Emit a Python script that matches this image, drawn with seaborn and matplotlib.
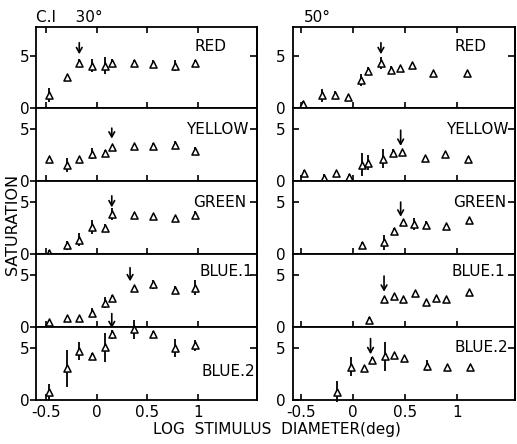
import matplotlib
matplotlib.use("Agg")
import matplotlib.pyplot as plt
import seaborn as sns
import pandas as pd

# ── Data ─────────────────────────────────────────────────────
colors = ["RED", "YELLOW", "GREEN", "BLUE.1", "BLUE.2"]

# 30 deg
x30 = [-0.47, -0.29, -0.17, -0.04, 0.08, 0.15, 0.37, 0.56, 0.77, 0.97]
red30 = [1.3, 3.0, 4.35, 4.1, 4.1, 4.35, 4.35, 4.3, 4.1, 4.35]
red30_err = [0.7, 0, 0.4, 0.6, 0.85, 0.4, 0.3, 0.3, 0.5, 0.3]
yellow30 = [2.15, 1.55, 2.15, 2.65, 2.7, 3.25, 3.4, 3.35, 3.5, 2.9]
yellow30_err = [0, 0.7, 0, 0.5, 0.3, 0, 0, 0.35, 0.4, 0.4]
green30 = [0.15, 0.85, 1.4, 2.6, 2.5, 3.85, 3.75, 3.7, 3.45, 3.8]
green30_err = [0.3, 0.4, 0.6, 0.7, 0.4, 0.55, 0, 0, 0, 0.35]
blue1_30 = [0.45, 0.9, 0.9, 1.4, 2.35, 2.75, 3.8, 4.1, 3.6, 3.8]
blue1_30_err = [0.2, 0, 0, 0.45, 0.5, 0.3, 0, 0.4, 0.3, 0.7]
blue2_30 = [0.8, 3.05, 4.7, 4.25, 5.05, 6.3, 6.8, 6.3, 5.0, 5.25]
blue2_30_err = [0.75, 1.8, 0.9, 0.3, 1.4, 0.4, 0.9, 0.3, 0.9, 0.5]

# 50 deg
x50_red = [-0.48, -0.30, -0.17, -0.05, 0.08, 0.15, 0.27, 0.37, 0.45, 0.57, 0.77, 1.10]
red50 = [0.4, 1.25, 1.3, 1.1, 2.7, 3.6, 4.35, 3.65, 3.9, 4.15, 3.35, 3.35]
red50_err = [0.3, 0.6, 0.4, 0, 0.6, 0.4, 0.6, 0.4, 0, 0, 0, 0]
x50_yellow = [-0.47, -0.28, -0.16, -0.04, 0.09, 0.15, 0.29, 0.39, 0.47, 0.69, 0.89, 1.11]
yellow50 = [0.8, 0.3, 0.8, 0.4, 1.6, 1.8, 2.15, 2.7, 2.8, 2.25, 2.6, 2.1]
yellow50_err = [0.3, 0.4, 0, 0.3, 1.1, 0.75, 0.9, 0.35, 0.2, 0, 0.2, 0]
x50_green = [0.09, 0.30, 0.40, 0.48, 0.59, 0.70, 0.90, 1.12]
green50 = [0.9, 1.15, 2.25, 3.05, 2.9, 2.85, 2.75, 3.3]
green50_err = [0.3, 0.7, 0.3, 0, 0.6, 0.3, 0, 0]
x50_blue1 = [0.16, 0.30, 0.40, 0.48, 0.60, 0.70, 0.80, 0.90, 1.12]
blue1_50 = [0.65, 2.7, 2.95, 2.7, 3.3, 2.4, 2.8, 2.7, 3.4]
blue1_50_err = [0.3, 0, 0, 0, 0, 0.2, 0, 0, 0]
x50_blue2 = [-0.15, -0.02, 0.11, 0.18, 0.31, 0.40, 0.49, 0.71, 0.91, 1.13]
blue2_50 = [0.8, 3.2, 3.05, 3.8, 4.2, 4.3, 4.0, 3.3, 3.2, 3.2]
blue2_50_err = [1.0, 0.9, 0, 0.3, 1.4, 0, 0.2, 0.5, 0, 0]

# arrows: (x, tail, tip)
arrows30 = [(-0.17, 6.3, 5.2), (0.15, 5.1, 4.1), (0.15, 5.6, 4.5),
            (0.33, 5.7, 4.4), (0.15, 8.3, 6.9)]
arrows50 = [(0.27, 6.3, 5.2), (0.46, 4.9, 3.4), (0.46, 5.0, 3.6),
            (0.30, 4.9, 3.4), (0.17, 5.9, 4.4)]

panels30 = [(x30, red30, red30_err), (x30, yellow30, yellow30_err),
            (x30, green30, green30_err), (x30, blue1_30, blue1_30_err),
            (x30, blue2_30, blue2_30_err)]
panels50 = [(x50_red, red50, red50_err), (x50_yellow, yellow50, yellow50_err),
            (x50_green, green50, green50_err), (x50_blue1, blue1_50, blue1_50_err),
            (x50_blue2, blue2_50, blue2_50_err)]

# ── Plot ─────────────────────────────────────────────────────
sns.set_theme(style="ticks")
plt.rcParams["font.family"] = ["DejaVu Sans"]
plt.rcParams["axes.linewidth"] = 1.3
for key in ["text.color", "axes.labelcolor", "xtick.color", "ytick.color",
            "axes.edgecolor"]:
    plt.rcParams[key] = "black"

fig = plt.figure(figsize=(5.17, 4.44), dpi=100)
ylims = [7.8, 7.0, 7.0, 7.0, 7.0]
gs_l = fig.add_gridspec(5, 1, left=0.07, right=0.498, top=0.939, bottom=0.099,
                        hspace=0, height_ratios=ylims)
gs_r = fig.add_gridspec(5, 1, left=0.566, right=0.996, top=0.939, bottom=0.099,
                        hspace=0, height_ratios=ylims)

label_x = [[0.86, 0.96, 0.95, 0.98, 0.99], [0.87, 0.97, 0.96, 0.955, 0.97]]
label_y = [5.9, 5.0, 5.0, 5.3, 2.7]
label_y50 = [5.9, 5.0, 5.0, 5.3, 5.0]

for col, (gs, panels, arrows, xlim) in enumerate([
        (gs_l, panels30, arrows30, (-0.594, 1.584)),
        (gs_r, panels50, arrows50, (-0.58, 1.56))]):
    for row in range(5):
        ax = fig.add_subplot(gs[row])
        xs, ys, es = panels[row]
        df = pd.DataFrame({"x": xs, "y": ys, "err": es})
        ax.errorbar(df["x"], df["y"], yerr=df["err"], fmt="none", ecolor="black",
                    elinewidth=1.3, capsize=0, clip_on=False, zorder=2)
        sns.scatterplot(data=df, x="x", y="y", ax=ax, marker="^", s=26,
                        facecolor="white", edgecolor="black", linewidth=1.1,
                        clip_on=False, zorder=3)
        ax_x, tail, tip = arrows[row]
        ax.annotate("", xy=(ax_x, tip), xytext=(ax_x, tail),
                    arrowprops=dict(arrowstyle="->,head_length=0.3,head_width=0.17",
                                    color="black", lw=1.2, shrinkA=0, shrinkB=0),
                    annotation_clip=False, zorder=4)
        ax.set_xlim(*xlim)
        ax.set_ylim(0, ylims[row])
        ax.set_yticks([0, 5])
        ax.set_yticklabels(["0", "5"], fontsize=11)
        ax.set_xticks([-0.5, 0, 0.5, 1])
        ax.tick_params(axis="y", direction="out" if col == 0 else "in",
                       length=4, width=1.2, pad=1 if col == 0 else 5)
        # right-hand tick marks point inward
        sec = ax.secondary_yaxis("right")
        sec.set_yticks([5])
        sec.tick_params(direction="in", length=5, width=1.2, labelright=False)
        sec.spines["right"].set_linewidth(1.3)
        ax.tick_params(axis="x", direction="in", length=4, width=1.2,
                       top=(row == 0), bottom=True)
        ax.set_xlabel("")
        ax.set_ylabel("")
        if row < 4:
            ax.set_xticklabels([])
        else:
            ax.set_xticklabels(["-0.5", "0", "0.5", "1"], fontsize=11)
        ly = label_y[row] if col == 0 else label_y50[row]
        ax.text(label_x[col][row], ly, colors[row], transform=ax.get_yaxis_transform(),
                ha="right", va="center", fontsize=11)
        if row == 0:
            if col == 0:
                ax.text(0.0, 1.02, "C.I    30°", transform=ax.transAxes,
                        ha="left", va="bottom", fontsize=11)
            else:
                ax.text(0.05, 1.02, "50°", transform=ax.transAxes,
                        ha="left", va="bottom", fontsize=11)

fig.text(0.025, 0.495, "SATURATION", rotation=90, ha="center", va="center",
         fontsize=11.5)
fig.text(0.535, 0.015, "LOG  STIMULUS  DIAMETER(deg)", ha="center", va="bottom",
         fontsize=11)

plt.savefig("out.png", dpi=100)
